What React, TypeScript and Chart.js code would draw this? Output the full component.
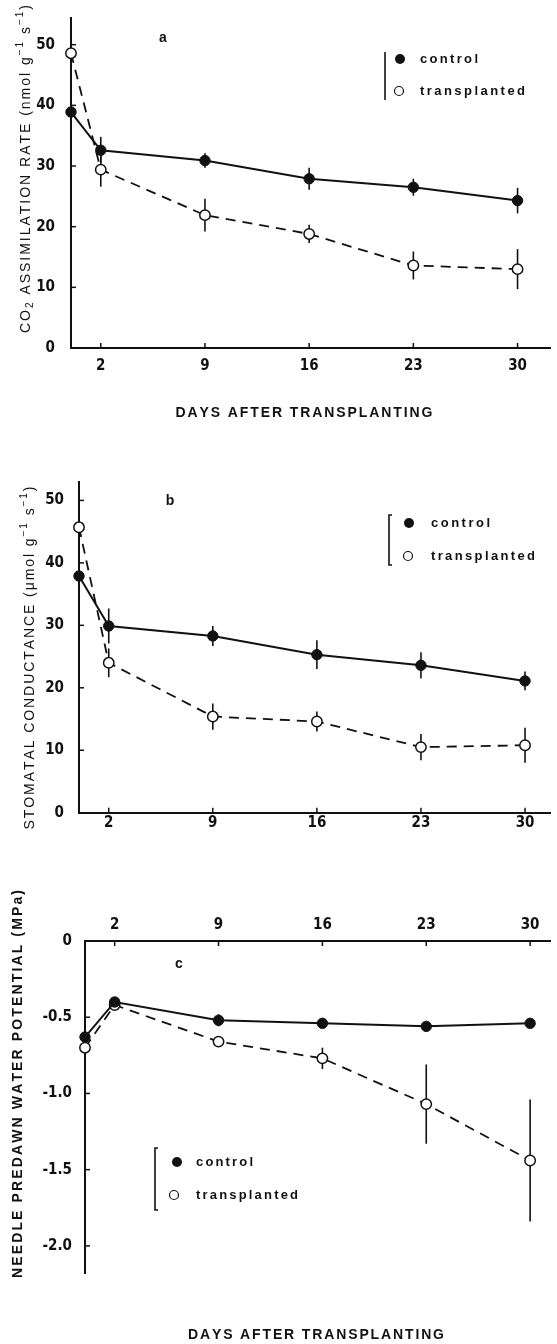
import React, { useEffect, useRef } from "react";
import { Chart, registerables } from "chart.js";
Chart.register(...registerables);

// ---------- data ----------
const days = [0, 2, 9, 16, 23, 30];
const dayTicks = [2, 9, 16, 23, 30];
const seriesLabels = ["control", "transplanted"];
const xTitleText = "DAYS AFTER TRANSPLANTING";

const assimControl = [38.9, 32.6, 30.9, 27.9, 26.5, 24.3];
const assimControlErr = [0, 2.2, 1.2, 1.8, 1.4, 2.1];
const assimTrans = [48.6, 29.4, 21.9, 18.8, 13.6, 13.0];
const assimTransErr = [1.2, 2.8, 2.7, 1.5, 2.3, 3.3];
const assimTicks = [0, 10, 20, 30, 40, 50];

const condControl = [37.9, 29.9, 28.3, 25.3, 23.6, 21.1];
const condControlErr = [0, 2.8, 1.6, 2.3, 2.1, 1.5];
const condTrans = [45.7, 24.0, 15.4, 14.6, 10.5, 10.8];
const condTransErr = [1.2, 2.3, 2.1, 1.6, 2.1, 2.8];
const condTicks = [0, 10, 20, 30, 40, 50];

const wpControl = [-0.63, -0.4, -0.52, -0.54, -0.56, -0.54];
const wpControlErr = [0.03, 0.03, 0.04, 0.02, 0.02, 0.02];
const wpTrans = [-0.7, -0.42, -0.66, -0.77, -1.07, -1.44];
const wpTransErr = [0.05, 0.02, 0.03, 0.07, 0.26, 0.4];
const wpTicks = [0, -0.5, -1.0, -1.5, -2.0];

const titleA = [
  { t: "CO" }, { t: "2", sub: true }, { t: " ASSIMILATION RATE (nmol g" },
  { t: "−1", sup: true }, { t: " s" }, { t: "−1", sup: true }, { t: ")" },
];
const titleB = [
  { t: "STOMATAL CONDUCTANCE (μmol g" }, { t: "−1", sup: true }, { t: " s" },
  { t: "−1", sup: true }, { t: ")" },
];
const titleC = [{ t: "NEEDLE PREDAWN WATER POTENTIAL (MPa)" }];

// ---------- styles / layout ----------
const INK = "#111";
const W = 557;
const TICK_FAMILY = "'Liberation Sans Narrow', 'DejaVu Sans Condensed', 'Arial Narrow', sans-serif";
const TEXT_FAMILY = "'Liberation Sans', Arial, sans-serif";

type Seg = { t: string; sub?: boolean; sup?: boolean };

const panels = [
  {
    key: "a", top: 0, height: 440,
    area: { left: 71, top: 18, bottom: 348 },
    xMax: 32.2, yMin: 0, yMax: 54.4, xPos: "bottom", xPad: 9, yPad: 16, dec: false,
    yTicks: assimTicks, control: assimControl, controlErr: assimControlErr, trans: assimTrans, transErr: assimTransErr,
    yTitle: titleA, yTitlePos: { x: 26, y: 169, len: 328, bold: false },
    xTitlePos: { x: 304, y: 413, len: 257 },
    letter: { t: "a", x: 163, y: 38 },
    legend: { bx: 385, by0: 52, by1: 100, serif: false, m1: { x: 400, y: 59 }, m2: { x: 399, y: 91 }, tx: 420, w1: 58, w2: 105 },
  },
  {
    key: "b", top: 440, height: 420,
    area: { left: 79, top: 41.7, bottom: 372.7 },
    xMax: 31.7, yMin: 0, yMax: 53, xPos: "bottom", xPad: 1.5, yPad: 15, dec: false,
    yTicks: condTicks, control: condControl, controlErr: condControlErr, trans: condTrans, transErr: condTransErr,
    yTitle: titleB, yTitlePos: { x: 30, y: 218, len: 343, bold: false },
    xTitlePos: null,
    letter: { t: "b", x: 170, y: 61 },
    legend: { bx: 389, by0: 75, by1: 125, serif: true, m1: { x: 409, y: 83 }, m2: { x: 408, y: 116 }, tx: 431, w1: 59, w2: 104 },
  },
  {
    key: "c", top: 860, height: 484,
    area: { left: 85, top: 81, bottom: 413.3 },
    xMax: 31.36, yMin: -2.18, yMax: 0, xPos: "top", xPad: 7, yPad: 13, dec: true,
    yTicks: wpTicks, control: wpControl, controlErr: wpControlErr, trans: wpTrans, transErr: wpTransErr,
    yTitle: titleC, yTitlePos: { x: 18, y: 224, len: 388, bold: true },
    xTitlePos: { x: 316, y: 475, len: 256 },
    letter: { t: "c", x: 179, y: 104 },
    legend: { bx: 155, by0: 288, by1: 350, serif: true, m1: { x: 177, y: 302 }, m2: { x: 174, y: 335 }, tx: 196, w1: 57, w2: 102 },
  },
];

function drawSpaced(ctx: CanvasRenderingContext2D, segs: Seg[], cx: number, cy: number, target: number, size: number, weight: string, rotate: boolean) {
  const base = `${weight} ${size}px ${TEXT_FAMILY}`;
  const small = `${weight} ${Math.round(size * 0.72)}px ${TEXT_FAMILY}`;
  const chars: any[] = [];
  for (const s of segs) {
    const font = s.sub || s.sup ? small : base;
    const dy = s.sub ? size * 0.3 : s.sup ? -size * 0.38 : 0;
    for (const ch of s.t) chars.push({ ch, font, dy, w: 0 });
  }
  let total = 0;
  for (const c of chars) { ctx.font = c.font; c.w = ctx.measureText(c.ch).width; total += c.w; }
  const sp = chars.length > 1 ? (target - total) / (chars.length - 1) : 0;
  ctx.save();
  ctx.translate(cx, cy);
  if (rotate) ctx.rotate(-Math.PI / 2);
  ctx.textBaseline = "middle";
  ctx.textAlign = "left";
  ctx.fillStyle = INK;
  let x = -target / 2;
  for (const c of chars) { ctx.font = c.font; ctx.fillText(c.ch, x, c.dy); x += c.w + sp; }
  ctx.restore();
}

function decor(p: any) {
  return {
    id: "decor" + p.key,
    beforeDatasetsDraw(chart: any) {
      const ctx = chart.ctx;
      const xs = chart.scales.x, ys = chart.scales.y;
      ctx.save();
      ctx.strokeStyle = INK;
      ctx.lineWidth = 1.6;
      const sets = [[p.control, p.controlErr], [p.trans, p.transErr]];
      for (const [vals, errs] of sets) {
        vals.forEach((v: number, i: number) => {
          if (!errs[i]) return;
          const x = xs.getPixelForValue(days[i]);
          ctx.beginPath();
          ctx.moveTo(x, ys.getPixelForValue(v + errs[i]));
          ctx.lineTo(x, ys.getPixelForValue(v - errs[i]));
          ctx.stroke();
        });
      }
      ctx.restore();
    },
    afterDraw(chart: any) {
      const ctx = chart.ctx;
      const xs = chart.scales.x, ys = chart.scales.y;
      const a = chart.chartArea;
      ctx.save();
      ctx.strokeStyle = INK;
      ctx.lineWidth = 1.5;
      // inward tick marks
      for (const v of dayTicks) {
        const px = xs.getPixelForValue(v);
        ctx.beginPath();
        if (p.xPos === "top") { ctx.moveTo(px, a.top); ctx.lineTo(px, a.top + 5); }
        else { ctx.moveTo(px, a.bottom); ctx.lineTo(px, a.bottom - 5); }
        ctx.stroke();
      }
      for (const v of p.yTicks) {
        if (v === 0) continue;
        const py = ys.getPixelForValue(v);
        ctx.beginPath();
        ctx.moveTo(a.left, py); ctx.lineTo(a.left + 5, py);
        ctx.stroke();
      }
      // axis titles
      drawSpaced(ctx, p.yTitle, p.yTitlePos.x, p.yTitlePos.y, p.yTitlePos.len, 14, p.yTitlePos.bold ? "bold" : "normal", true);
      if (p.xTitlePos) drawSpaced(ctx, [{ t: xTitleText }], p.xTitlePos.x, p.xTitlePos.y, p.xTitlePos.len, 14, "bold", false);
      // panel letter
      ctx.font = `bold 14px ${TEXT_FAMILY}`;
      ctx.fillStyle = INK;
      ctx.textAlign = "center";
      ctx.textBaseline = "middle";
      ctx.fillText(p.letter.t, p.letter.x, p.letter.y);
      // legend
      const L = p.legend;
      ctx.lineWidth = 1.6;
      ctx.beginPath();
      if (L.serif) { ctx.moveTo(L.bx + 3, L.by0); ctx.lineTo(L.bx, L.by0); }
      else ctx.moveTo(L.bx, L.by0);
      ctx.lineTo(L.bx, L.by1);
      if (L.serif) ctx.lineTo(L.bx + 3, L.by1);
      ctx.stroke();
      ctx.beginPath();
      ctx.arc(L.m1.x, L.m1.y, 5, 0, Math.PI * 2);
      ctx.fillStyle = INK; ctx.fill();
      ctx.beginPath();
      ctx.arc(L.m2.x, L.m2.y, 4.5, 0, Math.PI * 2);
      ctx.fillStyle = "#fff"; ctx.fill();
      ctx.lineWidth = 1.2; ctx.stroke();
      drawSpaced(ctx, [{ t: seriesLabels[0] }], L.tx + L.w1 / 2, L.m1.y, L.w1, 13, "bold", false);
      drawSpaced(ctx, [{ t: seriesLabels[1] }], L.tx + L.w2 / 2, L.m2.y, L.w2, 13, "bold", false);
      ctx.restore();
    },
  };
}

function Panel({ p }: { p: any }) {
  const ref = useRef<HTMLCanvasElement>(null);
  useEffect(() => {
    const mk = (vals: number[]) => days.map((d, i) => ({ x: d, y: vals[i] }));
    const tickFont = { family: TICK_FAMILY, size: 15, weight: "bold" as const };
    const isTop = p.xPos === "top";
    const chart = new Chart(ref.current as HTMLCanvasElement, {
      type: "line",
      data: {
        datasets: [
          { label: seriesLabels[0], data: mk(p.control), borderColor: INK, borderWidth: 2, pointRadius: 5.2, pointBackgroundColor: INK, pointBorderColor: INK, pointBorderWidth: 1, clip: false as any, tension: 0 },
          { label: seriesLabels[1], data: mk(p.trans), borderColor: INK, borderWidth: 1.8, borderDash: [10, 7], pointRadius: 5.2, pointBackgroundColor: "#fff", pointBorderColor: INK, pointBorderWidth: 1.5, clip: false as any, tension: 0 },
        ],
      },
      options: {
        responsive: false,
        animation: false,
        devicePixelRatio: 1,
        layout: { padding: { left: 0, right: 0, top: isTop ? 0 : p.area.top, bottom: isTop ? p.height - p.area.bottom : 0 } },
        plugins: { legend: { display: false }, tooltip: { enabled: false }, title: { display: false } },
        scales: {
          x: {
            type: "linear", position: p.xPos, min: 0, max: p.xMax,
            afterBuildTicks: (s: any) => { s.ticks = dayTicks.map((v) => ({ value: v })); },
            afterFit: (s: any) => { s.height = isTop ? p.area.top : p.height - p.area.bottom; s.paddingLeft = 0; s.paddingRight = 0; },
            grid: { display: false, drawTicks: false, tickLength: 0 },
            border: { display: true, color: INK, width: 2 },
            ticks: { font: tickFont, color: INK, padding: p.xPad, maxRotation: 0, autoSkip: false, callback: (v: any) => String(v) },
          },
          y: {
            type: "linear", position: "left", min: p.yMin, max: p.yMax,
            afterBuildTicks: (s: any) => { s.ticks = p.yTicks.map((v: number) => ({ value: v })); },
            afterFit: (s: any) => { s.width = p.area.left; s.paddingTop = 0; s.paddingBottom = 0; },
            grid: { display: false, drawTicks: false, tickLength: 0 },
            border: { display: true, color: INK, width: 2 },
            ticks: { font: tickFont, color: INK, padding: p.yPad, autoSkip: false, callback: (v: any) => (v === 0 ? "0" : p.dec ? Number(v).toFixed(1) : String(v)) },
          },
        },
      } as any,
      plugins: [decor(p)],
    });
    return () => chart.destroy();
  }, []);
  return (
    <canvas
      ref={ref}
      width={W}
      height={p.height}
      style={{ position: "absolute", left: 0, top: p.top, width: W, height: p.height }}
    />
  );
}

export default function App() {
  return (
    <div style={{ position: "absolute", left: 0, top: 0, width: W, height: 1344, background: "#fff" }}>
      {panels.map((p) => (
        <Panel key={p.key} p={p} />
      ))}
    </div>
  );
}
